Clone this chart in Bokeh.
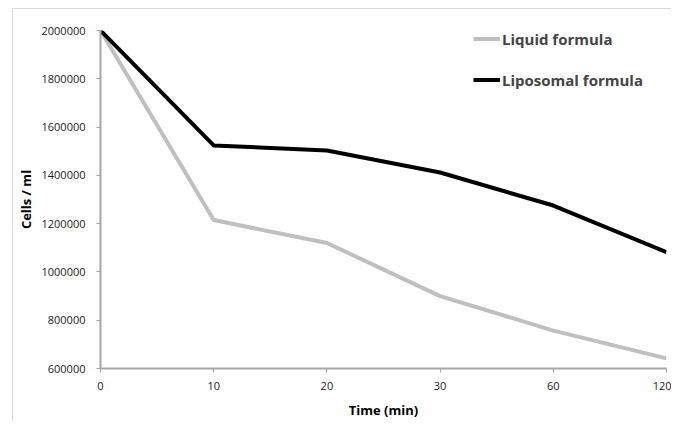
from bokeh.plotting import figure
from bokeh.models import Range1d, FixedTicker, Legend, LegendItem, NumeralTickFormatter
from bokeh.embed import file_html
from bokeh.resources import INLINE

times = ["0", "10", "20", "30", "60", "120"]
liquid = [2000000, 1215000, 1120000, 900000, 757000, 642000]
liposomal = [2000000, 1524000, 1503000, 1412000, 1275000, 1082000]
y_ticks = [600000, 800000, 1000000, 1200000, 1400000, 1600000, 1800000, 2000000]

xs = list(range(len(times)))

frame_css = {
    "background-image": "linear-gradient(#d9d9d9,#d9d9d9), linear-gradient(#d9d9d9,#d9d9d9)",
    "background-size": "1px 100%, 100% 1px",
    "background-position": "12px 8px, 12px 8px",
    "background-repeat": "no-repeat",
}

p = figure(width=671, height=421, output_backend="svg", toolbar_location=None,
           x_range=Range1d(0, len(times) - 1), y_range=Range1d(600000, 2000000),
           min_border_left=100, min_border_right=5, min_border_top=30, min_border_bottom=51,
           styles=frame_css)
p.border_fill_color = None
p.background_fill_color = "white"
p.outline_line_color = None
p.xgrid.visible = False
p.ygrid.visible = False

r1 = p.line(xs, liquid, line_color="#bfbfbf", line_width=4)
r2 = p.line(xs, liposomal, line_color="#000000", line_width=4)

p.xaxis.ticker = FixedTicker(ticks=xs)
p.xaxis.major_label_overrides = {i: t for i, t in enumerate(times)}
p.yaxis.ticker = FixedTicker(ticks=y_ticks)
p.yaxis.formatter = NumeralTickFormatter(format="0")

for ax in (p.xaxis[0], p.yaxis[0]):
    ax.axis_line_color = "#a6a6a6"
    ax.axis_line_width = 2
    ax.major_tick_line_color = "#a6a6a6"
    ax.major_tick_out = 4
    ax.major_tick_in = 0
    ax.minor_tick_line_color = None
    ax.major_label_text_font = "Open Sans"
    ax.major_label_text_font_size = "11px"
    ax.major_label_text_color = "#1a1a1a"
    ax.axis_label_text_font = "Open Sans"
    ax.axis_label_text_font_style = "bold"
    ax.axis_label_text_font_size = "13px"
    ax.axis_label_text_color = "#000000"

p.xaxis.axis_label = "Time (min)"
p.yaxis.axis_label = "Cells / ml"
p.xaxis.major_label_standoff = 9
p.yaxis.major_label_standoff = 11
p.xaxis.axis_label_standoff = 8
p.yaxis.axis_label_standoff = 3

legend = Legend(items=[LegendItem(label="Liquid formula", renderers=[r1]),
                       LegendItem(label="Liposomal formula", renderers=[r2])],
                location=(373, 278), orientation="vertical",
                glyph_width=27, glyph_height=21, label_height=21, spacing=20,
                label_standoff=2, padding=0, margin=0,
                border_line_color=None, background_fill_alpha=0,
                label_text_font="Open Sans", label_text_font_style="bold",
                label_text_font_size="15px")
p.add_layout(legend)

open("out.html", "w").write(file_html(p, INLINE))
